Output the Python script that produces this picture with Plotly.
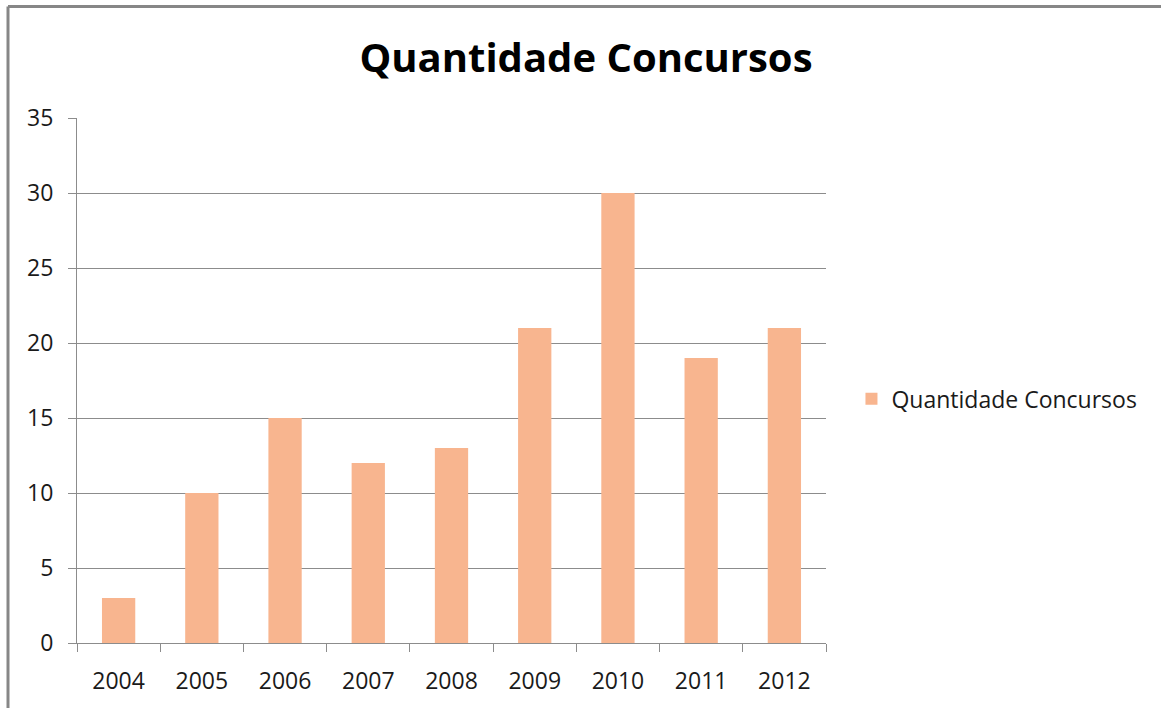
import plotly.graph_objects as go

anos = ["2004", "2005", "2006", "2007", "2008", "2009", "2010", "2011", "2012"]
quantidade = [3, 10, 15, 12, 13, 21, 30, 19, 21]

cor_barra = "#F8B58F"
cinza = "#8C8C8C"
fonte = "Open Sans"

fig = go.Figure()
fig.add_trace(go.Bar(x=anos, y=quantidade, name="Quantidade Concursos",
                     marker=dict(color=cor_barra, line=dict(width=0))))

fig.update_layout(
    width=1161, height=708,
    margin=dict(l=77, r=335, t=118, b=63),
    plot_bgcolor="white", paper_bgcolor="white",
    font=dict(family=fonte, size=23, color="#1a1a1a"),
    title=dict(text="<b>Quantidade Concursos</b>", x=586 / 1161, xref="container",
               y=1 - 58 / 708, yref="container", xanchor="center", yanchor="middle",
               font=dict(family=fonte, size=40, color="black")),
    bargap=0.6,
    showlegend=True,
    legend=dict(x=1.034, y=0.465, xanchor="left", yanchor="middle",
                font=dict(family=fonte, size=23, color="#1a1a1a")),
)

fig.update_yaxes(range=[0, 35], dtick=5, showgrid=True, gridcolor=cinza, gridwidth=1,
                 showline=True, linecolor=cinza, linewidth=1,
                 ticks="outside", ticklen=8, tickcolor=cinza, ticklabelstandoff=10,
                 zeroline=False)
fig.update_xaxes(showgrid=False, showline=True, linecolor=cinza, linewidth=1,
                 ticks="outside", ticklen=8, tickcolor=cinza, tickson="boundaries",
                 ticklabelstandoff=17, mirror=False)

# moldura do gráfico (topo e esquerda)
fig.add_shape(type="line", xref="paper", yref="paper",
              x0=(8 - 77) / 749, x1=(1170 - 77) / 749,
              y0=(645 - 6) / 527, y1=(645 - 6) / 527,
              line=dict(color="#878787", width=3))
fig.add_shape(type="line", xref="paper", yref="paper",
              x0=(8 - 77) / 749, x1=(8 - 77) / 749,
              y0=(645 - 6) / 527, y1=(645 - 720) / 527,
              line=dict(color="#878787", width=3))

# sem margem da página, a figura fica em (0, 0)
fig.write_html("out.html", config={"displayModeBar": False},
               post_script="document.body.style.margin='0';")
